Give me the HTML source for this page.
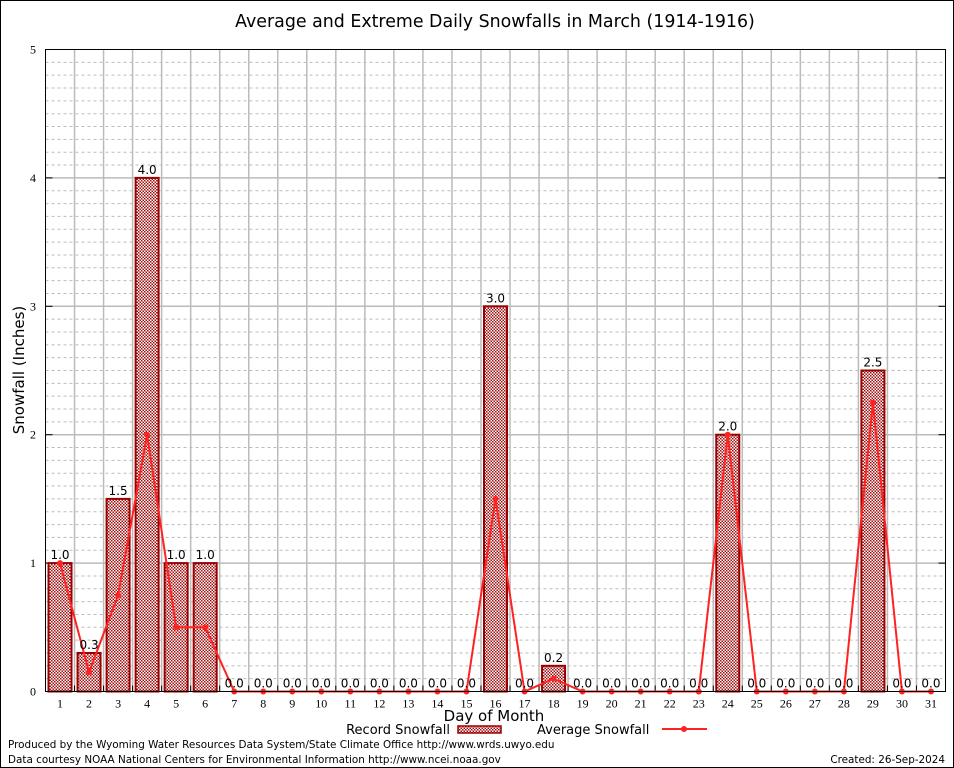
<!DOCTYPE html>
<html><head><meta charset="utf-8"><style>
body{margin:0;background:#fff}
svg{display:block}
.t{font-family:"DejaVu Sans","Liberation Sans",sans-serif}
.s{font-family:"Liberation Serif",serif;font-size:12px}
</style></head><body>
<svg id="c" width="954" height="768" xmlns="http://www.w3.org/2000/svg">
<defs><pattern id="chk" width="3" height="3" patternUnits="userSpaceOnUse">
<rect width="3" height="3" fill="#fff"/><rect width="1.5" height="1.5" fill="#a01010"/><rect x="1.5" y="1.5" width="1.5" height="1.5" fill="#a01010"/></pattern></defs>
<rect x="0.5" y="0.5" width="953" height="767" fill="#fff" stroke="#000"/>
<text class="t" x="495" y="27" font-size="17.4" text-anchor="middle">Average and Extreme Daily Snowfalls in March (1914-1916)</text>
<text class="t" x="24" y="370" font-size="15" text-anchor="middle" transform="rotate(-90 24 370)">Snowfall (Inches)</text>
<text class="t" x="494" y="721" font-size="15" text-anchor="middle">Day of Month</text>
<g id="grid"></g><g id="bars"></g><g id="line"></g><g id="labels"></g>
<rect x="45.5" y="49.5" width="900" height="642" fill="none" stroke="#000"/>
<g>
<text class="t" x="450" y="734" font-size="13" text-anchor="end">Record Snowfall</text>
<rect x="458" y="726" width="43" height="7" fill="url(#chk)" stroke="#900" stroke-width="1.5"/>
<text class="t" x="537" y="734" font-size="13">Average Snowfall</text>
<line x1="662" y1="729" x2="707" y2="729" stroke="#f22" stroke-width="2"/>
<circle cx="684" cy="729" r="3" fill="#f22"/>
</g>
<text class="t" x="8" y="748" font-size="10.4">Produced by the Wyoming Water Resources Data System/State Climate Office http://www.wrds.uwyo.edu</text>
<text class="t" x="8" y="763" font-size="10.4">Data courtesy NOAA National Centers for Environmental Information http://www.ncei.noaa.gov</text>
<text class="t" x="945" y="763" font-size="10.4" text-anchor="end">Created:  26-Sep-2024</text>
</svg>
<script>
const days=[1,2,3,4,5,6,7,8,9,10,11,12,13,14,15,16,17,18,19,20,21,22,23,24,25,26,27,28,29,30,31];
const recordVals=[1.0,0.3,1.5,4.0,1.0,1.0,0,0,0,0,0,0,0,0,0,3.0,0,0.2,0,0,0,0,0,2.0,0,0,0,0,2.5,0,0];
const avgVals=[1.0,0.15,0.75,2.0,0.5,0.5,0,0,0,0,0,0,0,0,0,1.5,0,0.1,0,0,0,0,0,2.0,0,0,0,0,2.25,0,0];
const yTicks=[0,1,2,3,4,5];
const NS="http://www.w3.org/2000/svg";
const L=45.5,R=945.5,T=49.5,B=691.5,yMax=5;
const step=(R-L)/days.length;
function xs(d){return L+(d-0.5)*step;}
function ys(v){return B-v/yMax*(B-T);}
function mk(tag,a,p){const e=document.createElementNS(NS,tag);for(const k in a)e.setAttribute(k,a[k]);p.appendChild(e);return e;}
const g=document.getElementById('grid');
for(let v=0;v<=yMax+1e-9;v+=0.1){const r=Math.round(v*10);if(r%10===0)continue;
 const e=mk('line',{x1:L,x2:R,y1:ys(v),y2:ys(v),stroke:'#bbb','stroke-dasharray':'3,3','stroke-width':1},g);
 }
for(let i=1;i<days.length;i++){const x=L+i*step;
 const e=mk('line',{x1:x,x2:x,y1:T,y2:B,stroke:'#bbb','stroke-width':1.5},g);
 
 mk('line',{x1:x,x2:x,y1:B,y2:B-6,stroke:'#000'},g);}
yTicks.forEach(v=>{
 if(v>0&&v<yMax){const e=mk('line',{x1:L,x2:R,y1:ys(v),y2:ys(v),stroke:'#bbb','stroke-width':1.5},g);
 }
 mk('line',{x1:L,x2:L+7,y1:ys(v),y2:ys(v),stroke:'#000'},g);
 mk('line',{x1:R-7,x2:R,y1:ys(v),y2:ys(v),stroke:'#000'},g);
 const t=mk('text',{x:36,y:ys(v)+4,'text-anchor':'end',class:'s'},g);t.textContent=v;
 
});
const bg=document.getElementById('bars'),lb=document.getElementById('labels');
days.forEach((d,i)=>{
 const v=recordVals[i],x=xs(d);
 if(v>0){const r=mk('rect',{x:x-11.5,y:ys(v),width:23,height:B-ys(v),fill:'url(#chk)',stroke:'#900','stroke-width':2},bg);
 }
 const t=mk('text',{x:x,y:ys(v)-4,'text-anchor':'middle',class:'t','font-size':12},lb);t.textContent=v.toFixed(1);
 
 const tl=mk('text',{x:x,y:B+16,'text-anchor':'middle',class:'s'},lb);tl.textContent=d;
 
});
const lg=document.getElementById('line');
const pts=days.map((d,i)=>xs(d)+','+ys(avgVals[i])).join(' ');
const pl=mk('polyline',{points:pts,fill:'none',stroke:'#f22','stroke-width':2},lg);

days.forEach((d,i)=>{const c=mk('circle',{cx:xs(d),cy:ys(avgVals[i]),r:3,fill:'#f22'},lg);
 });
</script>
</body></html>
